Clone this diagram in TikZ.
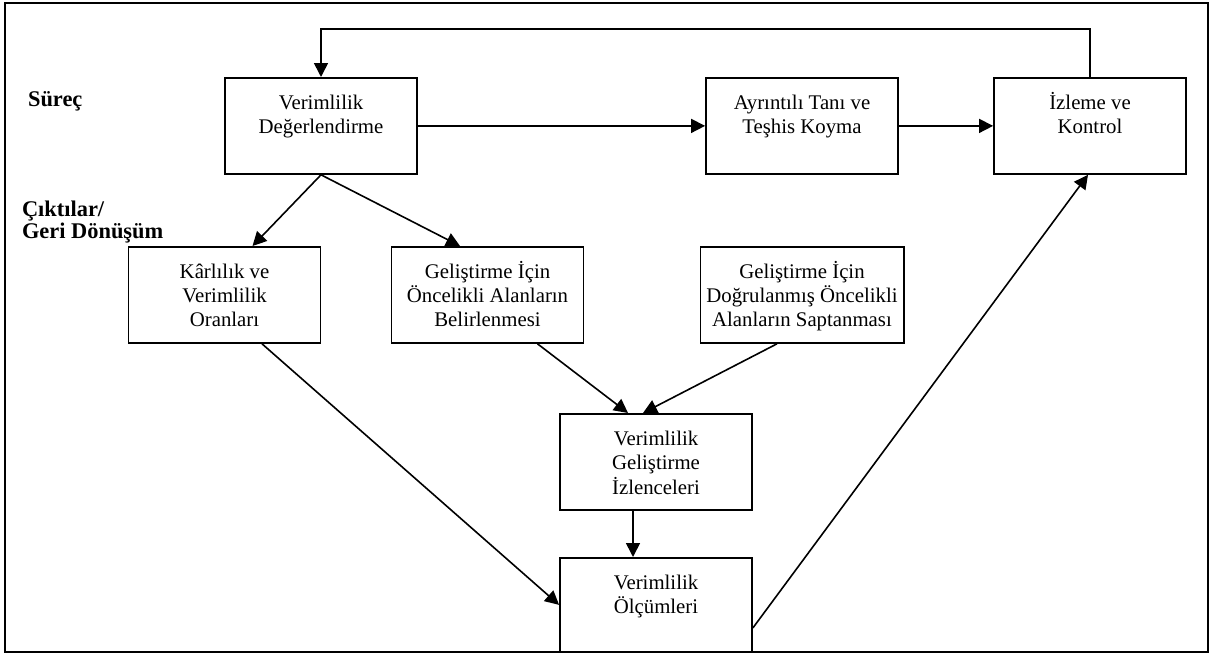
\documentclass[tikz,border=0pt]{standalone}
\usepackage{fontspec}
\setmainfont{Liberation Serif}
\usetikzlibrary{arrows.meta, calc}
\newcommand\ustyazi[1]{\begin{tabular}[t]{@{}c@{}}#1\end{tabular}}
\tikzset{
    kutu/.style={draw, line width=0.9pt, anchor=north,
        minimum width=96pt, inner sep=3pt, text height=13pt, text depth=29pt},
    ok/.style={line width=0.8pt, -{Triangle[length=7pt,width=7pt]}},
    baslik/.style={anchor=west, align=left, font=\fontsize{11.2}{11.2}\selectfont\bfseries}
}
\begin{document}
\begin{tikzpicture}[x=0.5pt,y=-0.5pt,font=\fontsize{10.4}{12}\selectfont]
\useasboundingbox (0,0) rectangle (1215,654);
\draw[line width=0.8pt] (5,3) rectangle (1208,652);

\node[baslik] (surec) at (21,101) {Süreç};
\node[baslik] (cikti) at (15,222) {Çıktılar/\\Geri Dönüşüm};

\node[kutu] (deger) at (321,77) {\ustyazi{Verimlilik\\Değerlendirme}};
\node[kutu] (tani) at (802,77) {\ustyazi{Ayrıntılı Tanı ve\\Teşhis Koyma}};
\node[kutu] (izleme) at (1090,77) {\ustyazi{İzleme ve\\Kontrol}};
\node[kutu] (karlilik) at (224.5,246) {\ustyazi{Kârlılık ve\\Verimlilik\\Oranları}};
\node[kutu] (oncelik) at (487.5,246) {\ustyazi{Geliştirme İçin\\Öncelikli Alanların\\Belirlenmesi}};
\node[kutu] (dogrulan) at (802,246) {\ustyazi{Geliştirme İçin\\Doğrulanmış Öncelikli\\Alanların Saptanması}};
\node[kutu] (izlence) at (656,413) {\ustyazi{Verimlilik\\Geliştirme\\İzlenceleri}};
\node[kutu, text depth=28pt] (olcum) at (656,557) {\ustyazi{Verimlilik\\Ölçümleri}};

\coordinate (donus) at (321,29);

\draw[ok] (deger) -- (tani);
\draw[ok] (tani) -- (izleme);
\draw[ok] (izleme.north) |- (donus) -- (deger.north);
\draw[ok] (deger.south) -- ([xshift=14pt]karlilik.north);
\draw[ok] (deger.south) -- ([xshift=-13.75pt]oncelik.north);
\draw[ok] ([xshift=25pt]oncelik.south) -- ([xshift=-14pt]izlence.north);
\draw[ok] ([xshift=-12.5pt]dogrulan.south) -- ([xshift=-6.5pt]izlence.north);
\draw[ok] ([xshift=18.75pt]karlilik.south) -- (olcum.west);
\draw[ok] ([xshift=-11.5pt]izlence.south) -- ([xshift=-11.5pt]olcum.north);
\draw[ok] ([yshift=-11.5pt]olcum.east) -- ([xshift=-1pt]izleme.south);
\end{tikzpicture}
\end{document}
